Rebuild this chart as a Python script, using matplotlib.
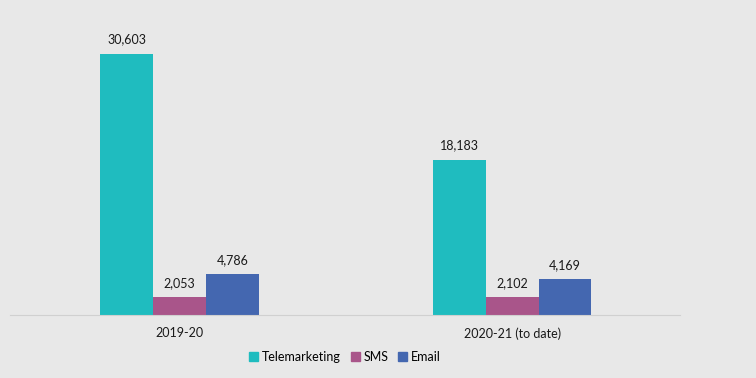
import numpy as np
import matplotlib.pyplot as plt
from matplotlib.patches import Patch

categories = ['2019-20', '2020-21 (to date)']
series = ['Telemarketing', 'SMS', 'Email']
telemarketing = [30603, 18183]
sms = [2053, 2102]
email = [4786, 4169]
colors = ['#1fbcbf', '#a9558a', '#4467b0']

plt.rcParams['font.family'] = ['Lato', 'DejaVu Sans']

fig = plt.figure(figsize=(7.56, 3.78), dpi=100, facecolor='#e8e8e8')
ax = fig.add_axes([0.013, 0.1667, 0.886, 0.79])
ax.set_facecolor('#e8e8e8')

x = np.arange(len(categories))
w = 0.159
for i, (vals, c) in enumerate(zip([telemarketing, sms, email], colors)):
    bars = ax.bar(x + (i - 1) * w, vals, w, color=c, zorder=2)
    labels = ['{:,}'.format(v) for v in vals]
    ax.bar_label(bars, labels=labels, padding=6, fontsize=9, color='#1a1a1a')

ax.set_xlim(-0.511, 1.504)
ax.set_ylim(0, 35000)
ax.set_yticks([])
ax.set_xticks(x)
ax.set_xticklabels(categories, fontsize=9, color='#1a1a1a')
ax.tick_params(axis='x', length=0, pad=9)
for s in ['top', 'right', 'left']:
    ax.spines[s].set_visible(False)
ax.spines['bottom'].set_color('#d0d0d0')

handles = [Patch(color=c, label=s) for s, c in zip(series, colors)]
fig.legend(handles=handles, loc='center', bbox_to_anchor=(345 / 756, 1 - 357 / 378),
           ncol=3, frameon=False, fontsize=9, handlelength=0.7, handleheight=0.7,
           handletextpad=0.3, columnspacing=0.8)

fig.savefig('out.png', dpi=100, facecolor=fig.get_facecolor())
